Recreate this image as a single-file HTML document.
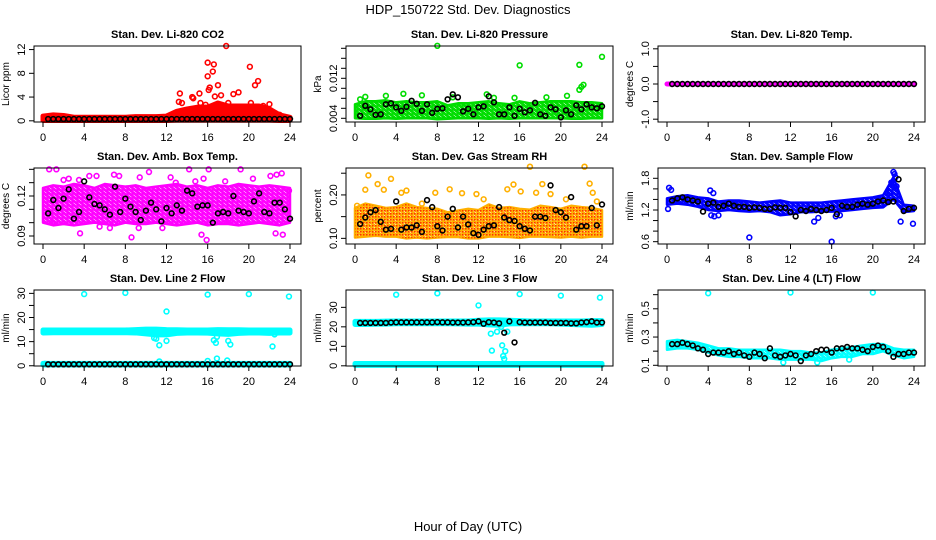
<!DOCTYPE html>
<html><head><meta charset="utf-8">
<style>
html,body{margin:0;padding:0;background:#fff;}
svg{display:block;font-family:"Liberation Sans",sans-serif;}
</style></head>
<body>
<svg id="chart" width="936" height="540" viewBox="0 0 936 540">
<rect x="0" y="0" width="936" height="540" fill="#fff"/>
<text x="468" y="14" text-anchor="middle" font-size="13">HDP_150722  Std. Dev. Diagnostics</text>
<text x="468" y="531" text-anchor="middle" font-size="13">Hour of Day (UTC)</text>
</svg>
<script>
// ---------- shared data ----------
const blackHours=[0.5,1,1.5,2,2.5,3,3.5,4,4.5,5,5.5,6,6.5,7,7.5,8,8.5,9,9.5,10,10.5,11,11.5,12,12.5,13,13.5,14,14.5,15,15.5,16,16.5,17,17.5,18,18.5,19,19.5,20,20.5,21,21.5,22,22.5,23,23.5,24];
const bandHours=[0,1,2,3,4,5,6,7,8,9,10,11,12,13,14,15,16,17,18,19,20,21,22,23,24];
const xTicks=[0,4,8,12,16,20,24];

// CO2
const co2Lo=[0.05,0.05,0.05,0.05,0.05,0.05,0.05,0.05,0.05,0.05,0.05,0.05,0.05,0.1,0.1,0.1,0.1,0.1,0.1,0.1,0.1,0.1,0.1,0.05,0.05];
const co2Hi=[0.8,1.0,0.9,0.6,0.6,0.6,0.6,0.6,0.6,0.7,0.7,0.7,0.8,1.6,2.0,2.3,2.3,3.0,2.5,2.5,2.5,2.5,2.0,1.0,0.6];
const co2OutX=[13.3,13.2,13.5,14.5,14.6,15.2,15.3,15.8,16,16,16.2,16.5,16.6,16.7,17,17.3,17.8,18,18.5,19,20.1,20.2,20.6,20.9,21.4,22,23,16.1];
const co2OutY=[4.6,3.2,3.0,4.0,3.8,4.6,3.0,2.7,9.8,7.5,5.6,8.3,9.5,4.1,6.0,4.3,12.6,3.0,4.5,4.8,9.1,3.0,6.0,6.7,2.5,2.8,1.0,5.2];
const co2Black=[0.3,0.3,0.3,0.3,0.3,0.3,0.3,0.3,0.3,0.3,0.3,0.3,0.3,0.3,0.3,0.3,0.3,0.3,0.3,0.3,0.3,0.3,0.3,0.3,0.3,0.3,0.3,0.3,0.3,0.3,0.3,0.3,0.3,0.3,0.3,0.3,0.3,0.3,0.3,0.3,0.3,0.3,0.3,0.3,0.3,0.3,0.3,0.3];

// Pressure
const presLo=[0.0040,0.0039,0.0039,0.0040,0.0039,0.0040,0.0040,0.0040,0.0038,0.0039,0.0040,0.0040,0.0040,0.0039,0.0040,0.0039,0.0040,0.0040,0.0040,0.0040,0.0040,0.0039,0.0039,0.0040,0.0040];
const presHi=[0.0068,0.0074,0.0074,0.0076,0.0072,0.0074,0.0072,0.0072,0.0074,0.0066,0.0070,0.0070,0.0072,0.0074,0.0070,0.0068,0.0074,0.0070,0.0072,0.0074,0.0074,0.0074,0.0072,0.0072,0.0070];
const presOutX=[8,16,21.8,24,22.2,22,21.8,4.7,12.8,1,3,6.5,18.6,20.6,13.5,9.5,0.5,15.5];
const presOutY=[0.0185,0.0146,0.0147,0.0163,0.0107,0.0103,0.0097,0.0089,0.0088,0.0083,0.0085,0.0086,0.0082,0.0085,0.0081,0.0082,0.0078,0.0081];
const presBlack=[0.0045,0.0065,0.0058,0.0047,0.0048,0.0068,0.007,0.0062,0.0055,0.0063,0.0075,0.0069,0.0055,0.0068,0.0051,0.0059,0.006,0.0078,0.0088,0.0082,0.0054,0.0059,0.0048,0.0062,0.0064,0.0084,0.0072,0.0048,0.0048,0.0062,0.0045,0.0059,0.0052,0.0056,0.0071,0.0048,0.0045,0.0062,0.0058,0.0042,0.0056,0.0048,0.0066,0.0058,0.0068,0.0062,0.006,0.0064];

// Temp
const tempLo=[0,0,0,0,0,0,0,0,0,0,0,0,0,0,0,0,0,0,0,0,0,0,0,0,0];
const tempHi=[0,0,0,0,0,0,0,0,0,0,0,0,0,0,0,0,0,0,0,0,0,0,0,0,0];
const tempOutX=[];
const tempOutY=[];
const tempBlack=[0,0,0,0,0,0,0,0,0,0,0,0,0,0,0,0,0,0,0,0,0,0,0,0,0,0,0,0,0,0,0,0,0,0,0,0,0,0,0,0,0,0,0,0,0,0,0,0,0];

// Amb box temp
const ambLo=[0.100,0.098,0.099,0.098,0.099,0.100,0.099,0.098,0.100,0.099,0.099,0.100,0.099,0.098,0.099,0.100,0.098,0.099,0.099,0.098,0.099,0.100,0.099,0.098,0.100];
const ambHi=[0.126,0.128,0.127,0.129,0.128,0.126,0.129,0.128,0.127,0.128,0.126,0.127,0.128,0.129,0.127,0.128,0.126,0.128,0.127,0.129,0.128,0.127,0.128,0.127,0.126];
const ambOutX=[0.6,1.3,2.5,3.5,4.5,5.2,6.9,7.4,9.4,10.3,12.4,14.2,15.4,15.9,16.1,19.2,22.1,22.6,23.3,23.9,0.9,3.6,5.5,6.5,9.3,11.6,14.8,15.6,18.0,22.7,23.2,2.0,8.6,17.7,20.4,12.9];
const ambOutY=[0.140,0.140,0.133,0.132,0.135,0.135,0.136,0.135,0.134,0.138,0.134,0.140,0.091,0.087,0.140,0.140,0.135,0.092,0.091,0.124,0.100,0.092,0.097,0.096,0.096,0.096,0.131,0.133,0.102,0.136,0.137,0.132,0.089,0.131,0.133,0.130];
const ambBlack=[0.107,0.117,0.111,0.118,0.125,0.103,0.108,0.131,0.119,0.114,0.113,0.110,0.106,0.127,0.108,0.118,0.112,0.108,0.102,0.109,0.115,0.110,0.101,0.111,0.107,0.113,0.109,0.124,0.122,0.112,0.113,0.113,0.100,0.107,0.108,0.107,0.120,0.109,0.108,0.107,0.116,0.122,0.108,0.107,0.115,0.115,0.110,0.103];

// Gas stream RH
const rhLo=[0.102,0.104,0.106,0.104,0.104,0.100,0.102,0.100,0.102,0.103,0.103,0.100,0.100,0.104,0.104,0.103,0.101,0.104,0.104,0.103,0.102,0.104,0.102,0.104,0.104];
const rhHi=[0.170,0.180,0.175,0.170,0.172,0.180,0.172,0.170,0.168,0.160,0.164,0.168,0.165,0.178,0.170,0.172,0.168,0.166,0.175,0.172,0.168,0.175,0.172,0.170,0.165];
const rhOutX=[1.3,2.2,3.5,1.0,2.8,4.5,5.0,7.8,9.2,10.4,11.8,14.8,15.4,16.1,17.0,17.6,18.2,19.0,22.3,22.8,23.1,23.5,0.2,6.5,12.5,20.5];
const rhOutY=[0.245,0.225,0.237,0.212,0.212,0.205,0.210,0.205,0.213,0.204,0.202,0.213,0.224,0.208,0.265,0.205,0.225,0.202,0.265,0.226,0.205,0.185,0.175,0.180,0.190,0.190];
const rhBlack=[0.133,0.148,0.160,0.165,0.138,0.120,0.122,0.185,0.120,0.125,0.125,0.130,0.115,0.188,0.172,0.128,0.118,0.150,0.168,0.125,0.150,0.132,0.112,0.108,0.120,0.128,0.130,0.172,0.148,0.142,0.140,0.128,0.122,0.118,0.150,0.150,0.147,0.222,0.165,0.160,0.148,0.195,0.120,0.128,0.128,0.170,0.130,0.178];

// Sample flow
const sfLo=[1.30,1.32,1.30,1.26,1.20,1.18,1.20,1.18,1.17,1.18,1.16,1.10,1.12,1.16,1.16,1.17,1.17,1.18,1.20,1.22,1.24,1.25,1.40,1.16,1.18];
const sfHi=[1.42,1.46,1.48,1.44,1.42,1.36,1.38,1.38,1.36,1.34,1.36,1.38,1.34,1.34,1.34,1.34,1.36,1.38,1.40,1.42,1.44,1.48,1.82,1.30,1.28];
const sfOutX=[0.2,0.4,0.1,4.2,4.5,4.6,4.3,5.0,8.0,14.3,14.7,16.0,16.4,16.8,21.8,22.0,22.1,22.2,22.3,22.7,23.9,21.6];
const sfOutY=[1.62,1.58,1.22,1.57,1.52,1.08,1.10,1.10,0.68,0.98,1.05,0.60,1.08,1.10,1.72,1.92,1.88,1.82,1.65,0.98,0.94,1.52];
const sfBlack=[1.38,1.42,1.44,1.40,1.38,1.36,1.17,1.32,1.34,1.26,1.28,1.32,1.28,1.26,1.26,1.24,1.25,1.24,1.22,1.22,1.25,1.24,1.24,1.16,1.08,1.20,1.18,1.22,1.20,1.18,1.20,1.24,1.12,1.28,1.26,1.26,1.30,1.32,1.30,1.32,1.36,1.38,1.35,1.36,1.78,1.18,1.22,1.24];

// Line 2 flow
const l2Lo=[13.6,13.7,13.7,13.7,13.7,13.7,13.7,13.7,13.7,13.6,13.2,12.8,12.8,13.4,13.6,13.6,13.5,13.2,13.0,13.4,13.6,13.6,13.4,13.6,13.6];
const l2Hi=[14.8,14.8,14.8,14.8,14.8,14.8,14.8,14.8,14.8,15.0,15.2,15.2,15.0,14.9,14.8,14.8,14.8,15.0,14.9,14.9,14.8,14.8,14.8,14.8,14.8];
const l2OutX=[4,8,16,20,23.9,12,11,11.3,12,10.8,16.6,16.8,16.9,18.0,18.2,22.3,22.5,11.3,16.0,16.9,17.9,0.2];
const l2OutY=[29.7,30.2,29.5,29.7,28.7,22.5,11.2,8.5,10.3,11.5,10.6,9.5,12.0,10.3,8.8,8.0,13.0,1.8,2.0,3.0,2.2,0.8];
const l2Black=[0.6,0.6,0.6,0.6,0.6,0.6,0.6,0.6,0.6,0.6,0.6,0.6,0.6,0.6,0.6,0.6,0.6,0.6,0.6,0.6,0.6,0.6,0.6,0.6,0.6,0.6,0.6,0.6,0.6,0.6,0.6,0.6,0.6,0.6,0.6,0.6,0.6,0.6,0.6,0.6,0.6,0.6,0.6,0.6,0.6,0.6,0.6,0.6];
const l2Lo2=[0.3,0.3,0.3,0.3,0.3,0.3,0.3,0.3,0.3,0.3,0.3,0.3,0.3,0.3,0.3,0.3,0.3,0.3,0.3,0.3,0.3,0.3,0.3,0.3,0.3];
const l2Hi2=[1.0,1.0,1.0,1.0,1.0,1.0,1.0,1.0,1.0,1.0,1.0,1.0,1.0,1.0,1.0,1.0,1.0,1.0,1.0,1.0,1.0,1.0,1.0,1.0,1.0];

// Line 3 flow
const l3Lo=[0.2,0.2,0.2,0.2,0.2,0.2,0.2,0.2,0.2,0.2,0.2,0.2,0.2,0.2,0.2,0.2,0.2,0.2,0.2,0.2,0.2,0.2,0.2,0.2,0.2];
const l3Hi=[1.2,1.2,1.2,1.2,1.2,1.2,1.2,1.2,1.2,1.2,1.2,1.2,1.2,1.2,1.2,1.2,1.2,1.2,1.2,1.2,1.2,1.2,1.2,1.2,1.2];
const l3BLo=[21.2,21.2,21.3,21.4,21.6,21.6,21.6,21.6,21.6,21.6,21.5,21.4,21.4,21.0,20.8,21.5,21.6,21.6,21.6,21.6,21.4,21.2,21.0,20.8,21.2];
const l3BHi=[22.8,22.8,22.8,22.9,23.0,23.0,23.0,23.0,23.0,23.0,23.0,23.0,23.4,23.6,23.6,23.4,23.2,23.0,23.0,23.0,23.0,23.0,23.0,23.2,23.2];
const l3OutX=[4,8,16,20,23.8,12,13.2,13.3,14.3,14.4,14.6,14.5,14.2,13.8,14.8,12.8,15.8];
const l3OutY=[36.5,37.2,36.8,36.0,35.0,31.0,16.5,7.8,10.5,5.0,7.5,3.5,20.0,17.5,17.5,21.5,22.5];
const l3Black=[22,22,22,22,22,22,22.2,22.3,22.3,22.3,22.3,22.3,22.3,22.3,22.3,22.4,22.3,22.3,22.2,22.2,22.2,22.3,22.4,22.8,21.6,22.4,22.2,21.8,17.0,22.8,12.0,22.4,22.2,22.2,22.2,22.2,22.2,22.0,22.0,22.0,22.0,21.8,21.8,22.2,22.4,22.8,22.2,22.2];

// Line 4 flow
const l4Lo=[0.21,0.22,0.22,0.21,0.19,0.17,0.16,0.16,0.15,0.15,0.15,0.14,0.14,0.14,0.14,0.13,0.15,0.16,0.16,0.18,0.18,0.20,0.17,0.15,0.16];
const l4Hi=[0.27,0.28,0.27,0.26,0.24,0.22,0.22,0.21,0.21,0.21,0.21,0.21,0.20,0.20,0.19,0.19,0.21,0.22,0.23,0.24,0.25,0.25,0.22,0.21,0.21];
const l4OutX=[4,12,20,11.3,14.6,17.7];
const l4OutY=[0.61,0.615,0.615,0.12,0.12,0.14];
const l4Black=[0.25,0.25,0.26,0.25,0.24,0.22,0.21,0.18,0.19,0.19,0.19,0.20,0.18,0.19,0.17,0.16,0.19,0.18,0.15,0.22,0.17,0.16,0.17,0.18,0.17,0.13,0.17,0.18,0.20,0.21,0.21,0.19,0.22,0.22,0.23,0.22,0.22,0.21,0.20,0.23,0.24,0.23,0.20,0.16,0.18,0.18,0.19,0.19];

// ---------- drawing ----------
const NS='http://www.w3.org/2000/svg';
const svg=document.getElementById('chart');
const colLeft=[34,346,658];
const rowTop=[46,168,290];
const boxW=267, boxH=76;
function mk(tag,attrs,parent){const e=document.createElementNS(NS,tag);for(const k in attrs)e.setAttribute(k,attrs[k]);(parent||svg).appendChild(e);return e;}

const defs=mk('defs',{});
const patCache={};
function circPattern(color){
  if(patCache[color])return patCache[color];
  const id='pc'+Object.keys(patCache).length;
  const pat=mk('pattern',{id:id,width:5,height:4,patternUnits:'userSpaceOnUse'},defs);
  [[1.25,1],[3.75,3],[6.25,1],[1.25,5],[-1.25,3],[3.75,-1]].forEach(c=>{
    mk('circle',{cx:c[0],cy:c[1],r:2.3,fill:'none',stroke:color,'stroke-width':1.5},pat);
  });
  patCache[color]='url(#'+id+')';
  return patCache[color];
}
const hatch=mk('pattern',{id:'hatch',width:3,height:3,patternUnits:'userSpaceOnUse'},defs);
mk('rect',{x:0,y:0,width:1.5,height:1.5,fill:'#ff3000'},hatch);

function drawPanel(p){
  const g=mk('g',{});
  
  
  const L=colLeft[p.col], T=rowTop[p.row], B=T+boxH, R=L+boxW;
  const xS=h=>L+9+h*(247/24);
  const yS=v=>B-(v-p.dom[0])/(p.dom[1]-p.dom[0])*boxH;
  const t=mk('text',{x:(L+R)/2,y:T-8,'text-anchor':'middle','font-size':'11','font-weight':'bold'},g);
  t.textContent=p.title;
  
  
  p.bands.forEach(bd=>{
    let pts=bandHours.map((h,i)=>xS(h)+','+yS(bd[1][i]));
    pts=pts.concat(bandHours.slice().reverse().map((h,j)=>{const i=bandHours.length-1-j;return xS(h)+','+yS(bd[0][i]);}));
    const thin=(yS(bd[0][0])-yS(bd[1][0]))<6;
    const pg=mk('polygon',{points:pts.join(' '),fill:thin?p.color:circPattern(p.color),stroke:p.color,'stroke-width':thin?5:2.5,'stroke-linejoin':'round'},g);
    
    
    if(p.hatch){
      const pg2=mk('polygon',{points:pts.join(' '),fill:'url(#hatch)',stroke:'none'},g);
      
      
    }
  });
  p.outX.forEach((h,i)=>{
    const c=mk('circle',{cx:xS(h),cy:yS(p.outY[i]),r:2.4,fill:'none',stroke:p.color,'stroke-width':1.6},g);
    
    
  });
  blackHours.forEach((h,i)=>{
    const c=mk('circle',{cx:xS(h),cy:yS(p.black[i]),r:2.4,fill:'none',stroke:'#000','stroke-width':1.6},g);
    
    
  });
  const bx=mk('rect',{x:L,y:T,width:boxW,height:boxH,fill:'none',stroke:'#000','stroke-width':1},g);
  
  
  xTicks.forEach(h=>{
    mk('line',{x1:xS(h),x2:xS(h),y1:B,y2:B+5,stroke:'#000'},g);
    const tl=mk('text',{x:xS(h),y:B+19,'text-anchor':'middle','font-size':'11'},g);
    tl.textContent=String(h);
    
    
  });
  p.yTicks.forEach((v,i)=>{
    const y=yS(v);
    mk('line',{x1:L,x2:L-5,y1:y,y2:y,stroke:'#000'},g);
    if(p.yLabels[i]){
      const tl=mk('text',{x:0,y:0,'text-anchor':'middle','font-size':'11',transform:'translate('+(L-9)+','+y+') rotate(-90)'},g);
      tl.textContent=p.yLabels[i];
      
      
    }
  });
  const yl=mk('text',{x:0,y:0,'text-anchor':'middle','font-size':'10',transform:'translate('+(L-25)+','+((T+B)/2)+') rotate(-90)'},g);
  yl.textContent=p.ylab;
  
  
}

const panels=[
 {name:'panel-co2',col:0,row:0,title:'Stan. Dev. Li-820 CO2',ylab:'Licor ppm',dom:[-0.2,12.6],yTicks:[0,4,8,12],yLabels:['0','4','8','12'],color:'#ff0000',bands:[[co2Lo,co2Hi]],outX:co2OutX,outY:co2OutY,black:co2Black},
 {name:'panel-pressure',col:1,row:0,title:'Stan. Dev. Li-820 Pressure',ylab:'kPa',dom:[0.00326,0.01846],yTicks:[0.004,0.006,0.008,0.010,0.012,0.014,0.016,0.018],yLabels:['0.004','','','','0.012','','',''],color:'#00dd00',bands:[[presLo,presHi]],outX:presOutX,outY:presOutY,black:presBlack},
 {name:'panel-temp',col:2,row:0,title:'Stan. Dev. Li-820 Temp.',ylab:'degrees C',dom:[-1.08,1.08],yTicks:[-1,-0.5,0,0.5,1],yLabels:['-1.0','','0.0','','1.0'],color:'#ff00ff',bands:[[tempLo,tempHi]],outX:tempOutX,outY:tempOutY,black:tempBlack},
 {name:'panel-amb-box-temp',col:0,row:1,title:'Stan. Dev. Amb. Box Temp.',ylab:'degrees C',dom:[0.084,0.141],yTicks:[0.09,0.10,0.11,0.12,0.13,0.14],yLabels:['0.09','','','0.12','',''],color:'#ff00ff',bands:[[ambLo,ambHi]],outX:ambOutX,outY:ambOutY,black:ambBlack},
 {name:'panel-gas-rh',col:1,row:1,title:'Stan. Dev. Gas Stream RH',ylab:'percent',dom:[0.087,0.262],yTicks:[0.10,0.15,0.20,0.25],yLabels:['0.10','','0.20',''],color:'#ffb000',hatch:true,bands:[[rhLo,rhHi]],outX:rhOutX,outY:rhOutY,black:rhBlack},
 {name:'panel-sample-flow',col:2,row:1,title:'Stan. Dev. Sample Flow',ylab:'ml/min',dom:[0.556,1.995],yTicks:[0.6,0.8,1.0,1.2,1.4,1.6,1.8],yLabels:['0.6','','','1.2','','','1.8'],color:'#0000ff',bands:[[sfLo,sfHi]],outX:sfOutX,outY:sfOutY,black:sfBlack},
 {name:'panel-line2-flow',col:0,row:2,title:'Stan. Dev. Line 2 Flow',ylab:'ml/min',dom:[-0.1,31.4],yTicks:[0,5,10,15,20,25,30],yLabels:['0','','10','','20','','30'],color:'#00ffff',bands:[[l2Lo,l2Hi],[l2Lo2,l2Hi2]],outX:l2OutX,outY:l2OutY,black:l2Black},
 {name:'panel-line3-flow',col:1,row:2,title:'Stan. Dev. Line 3 Flow',ylab:'ml/min',dom:[-0.1,38.9],yTicks:[0,10,20,30],yLabels:['0','10','20','30'],color:'#00ffff',bands:[[l3Lo,l3Hi],[l3BLo,l3BHi]],outX:l3OutX,outY:l3OutY,black:l3Black},
 {name:'panel-line4-flow',col:2,row:2,title:'Stan. Dev. Line 4 (LT) Flow',ylab:'ml/min',dom:[0.095,0.633],yTicks:[0.1,0.2,0.3,0.4,0.5,0.6],yLabels:['0.1','','0.3','','0.5',''],color:'#00ffff',bands:[[l4Lo,l4Hi]],outX:l4OutX,outY:l4OutY,black:l4Black}
];
panels.forEach(drawPanel);
</script>
</body></html>
